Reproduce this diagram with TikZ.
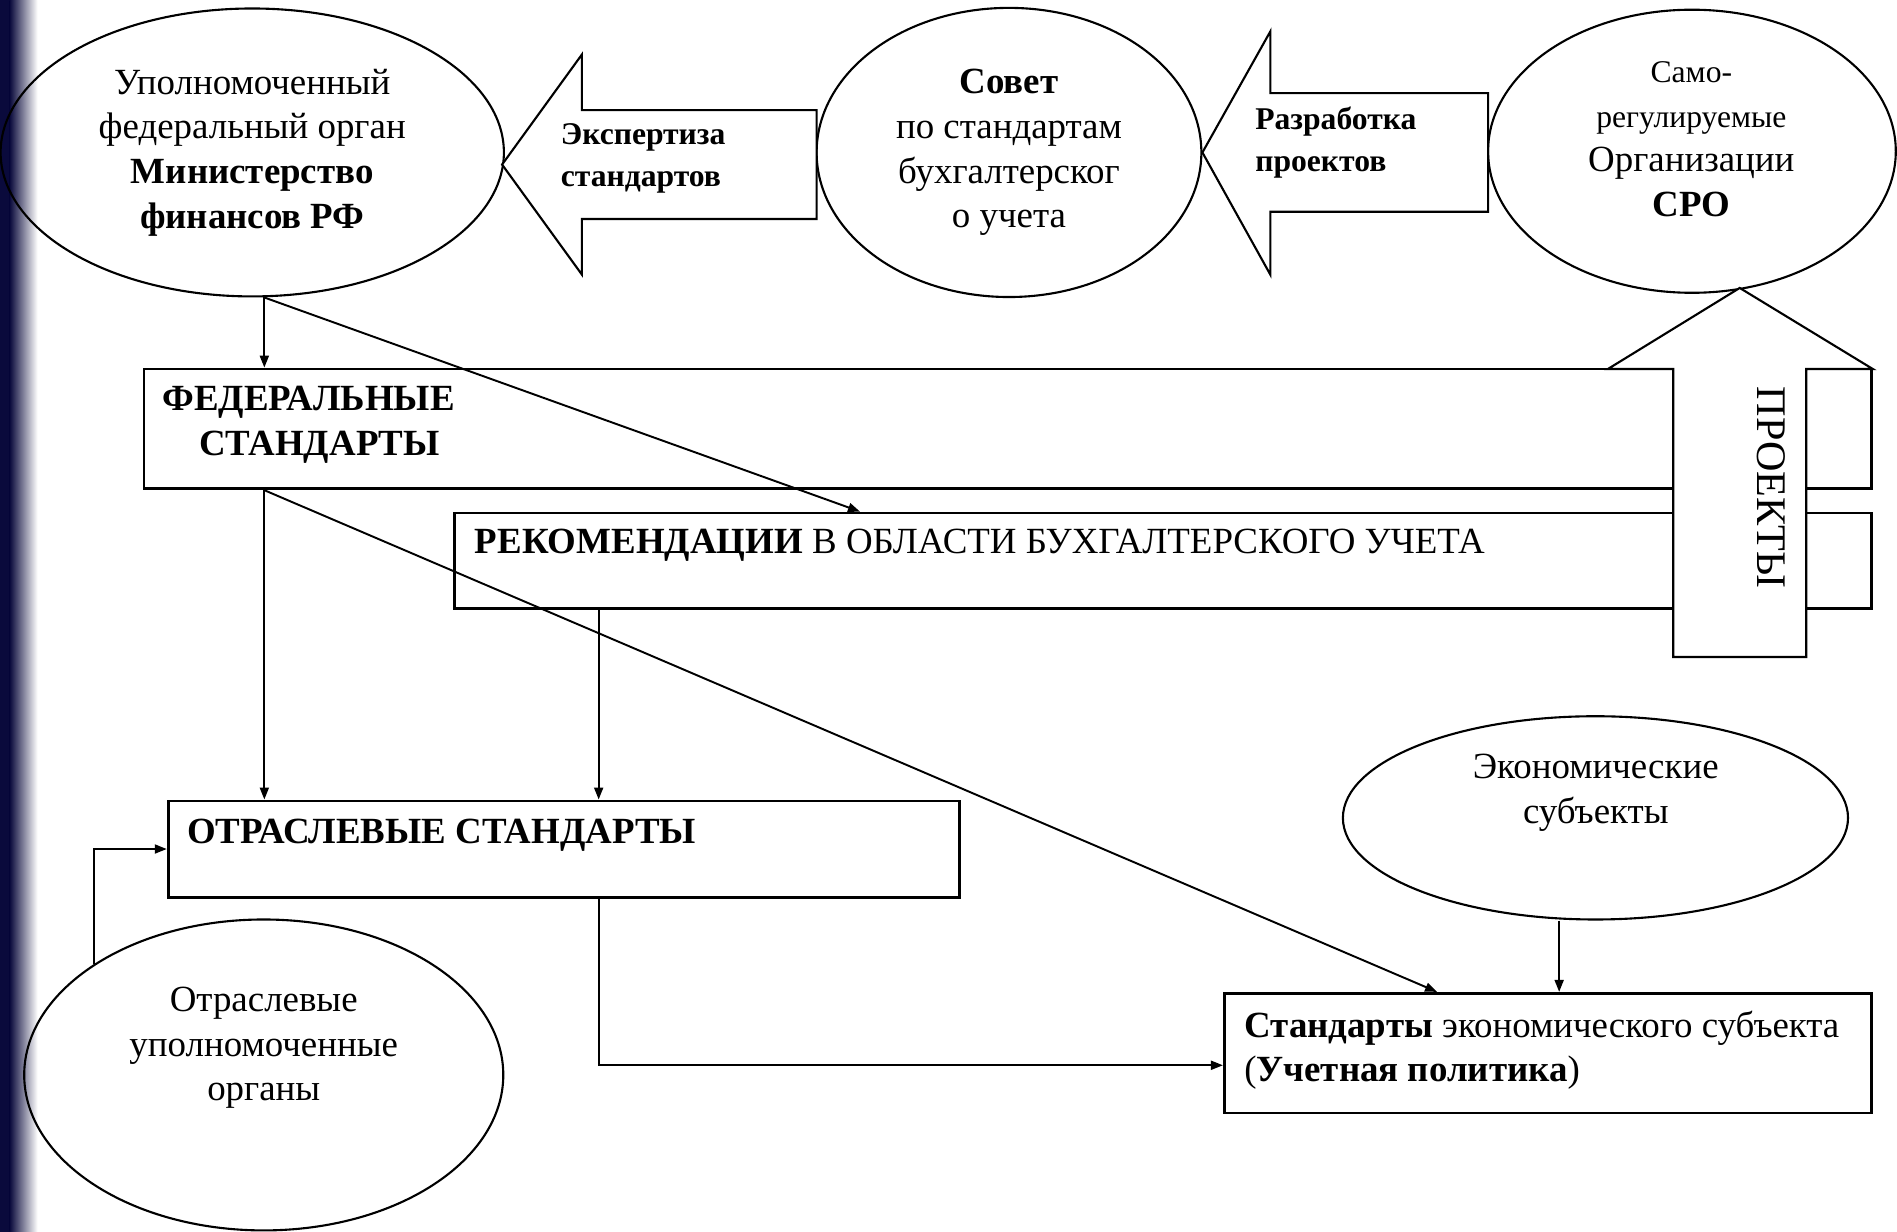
\documentclass[tikz,border=0pt]{standalone}
\usepackage{fontspec}
\setmainfont{Liberation Serif}
\usetikzlibrary{arrows.meta, calc, shapes.geometric}
\definecolor{slideNavy}{HTML}{0A0A3C}
\newcommand{\spx}{0.12098mm}

\begin{document}
\begin{tikzpicture}[
    x=\spx, y=-\spx,
    font=\fontsize{10.5}{12.7}\selectfont,
    >={Triangle[length=1.2mm,width=0.9mm]},
    oval/.style 2 args={ellipse, draw, line width=0.6pt, inner sep=0pt, minimum width=#1*\spx, minimum height=#2*\spx, align=center},
    box/.style 2 args={rectangle, draw, line width=0.8pt, inner sep=0pt, minimum width=#1*\spx, minimum height=#2*\spx},
    blockarrow/.style={draw, fill=white, line width=0.6pt, line join=miter},
    arr/.style={->, line width=0.55pt},
    lefttxt/.style={anchor=west, align=left, inner sep=0pt},
    smalltxt/.style={font=\fontsize{9}{12}\selectfont}
]
    \useasboundingbox (0,0) rectangle (1568,1018);

    % slide edge
    \fill[slideNavy] (0,0) rectangle (8,1018);
    \shade[left color=slideNavy, right color=white] (8,0) rectangle (31,1018);

    % boxes
    \node[box={1428}{99}] (fed) at (833,354.5) {};
    \node[box={1171}{79}] (rek) at (961.5,463.5) {};
    \node[box={654}{79.5}] (otr) at (466,701.75) {};
    \node[box={535}{99}] (std) at (1279.5,870.5) {};

    % ovals
    \node[oval={416}{238}] (minfin) at (208.5,126) {Уполномоченный\\федеральный орган\\\textbf{Министерство}\\\textbf{финансов РФ}};
    \node[oval={318}{239}] (sovet) at (834,126) {\textbf{Совет}\\по стандартам\\бухгалтерског\\о учета};
    \node[oval={337}{234}] (sro) at (1398.5,125) {};
    \node[oval={417.5}{168}] (econ) at (1318.75,676) {};
    \node[oval={396}{257}] (orgs) at (218,888.5) {};

    % block arrows
    \draw[blockarrow] (415,136) -- (481,45) -- (481,91) -- (675,91) -- (675,181)
        -- (481,181) -- (481,227) -- cycle;
    \draw[blockarrow] (sovet.east) -- (1050,26) -- (1050,77) -- (1230,77) -- (1230,175)
        -- (1050,175) -- (1050,227) -- cycle;
    \draw[blockarrow] (1438,238) -- (1548,305) -- (1493,305) -- (1493,543) -- (1383,543)
        -- (1383,305) -- (1329,305) -- cycle;

    % texts
    \node[lefttxt, smalltxt] (ekstxt) at (463,131) {\textbf{Экспертиза}\\\textbf{стандартов}};
    \node[lefttxt, smalltxt] (razrtxt) at (1037,118) {\textbf{Разработка}\\\textbf{проектов}};
    \node[align=center] (srotxt) at (1398,115) {{\fontsize{9}{12}\selectfont Само-}\\{\fontsize{9}{12}\selectfont регулируемые}\\Организации\\\textbf{СРО}};
    \node[font=\fontsize{12}{14}\selectfont, rotate=-90] (projtxt) at (1464,403) {ПРОЕКТЫ};
    \node[align=center, font=\fontsize{10.5}{12.7}\selectfont\bfseries] (fedtxt) at (255,351) {ФЕДЕРАЛЬНЫЕ\\\hspace*{2.2mm}СТАНДАРТЫ};
    \node[lefttxt] (rektxt) at (392,451) {\textbf{РЕКОМЕНДАЦИИ} В ОБЛАСТИ БУХГАЛТЕРСКОГО УЧЕТА};
    \node[lefttxt] (otrtxt) at (154,690) {\textbf{ОТРАСЛЕВЫЕ СТАНДАРТЫ}};
    \node[lefttxt] (stdtxt) at (1028,868) {\textbf{Стандарты} экономического субъекта\\(\textbf{Учетная политика})};
    \node[align=center] (econtxt) at (1319,655) {Экономические\\субъекты};
    \node[align=center] (orgstxt) at (218,866) {Отраслевые\\уполномоченные\\органы};

    % connectors
    \coordinate (m1) at ($(minfin.south)+(10,0)$);
    \coordinate (r1) at ($(rek.south west)+(120,0)$);
    \coordinate (e1) at ($(econ.south)+(-30,0)$);
    \draw[arr] (m1) -- (m1 |- fed.north);
    \draw[arr] (m1) -- ($(rek.north west)+(336,0)$);
    \draw[arr] (m1 |- fed.south) -- (m1 |- otr.north);
    \draw[arr] (m1 |- fed.south) -- ($(std.north west)+(177,0)$);
    \draw[arr] (r1) -- (r1 |- otr.north);
    \draw[arr] (r1 |- otr.south) |- ($(std.west)+(0,10)$);
    \draw[arr] (e1) -- (e1 |- std.north);
    \draw[arr] (orgs.north west) |- (otr.west);
\end{tikzpicture}
\end{document}
